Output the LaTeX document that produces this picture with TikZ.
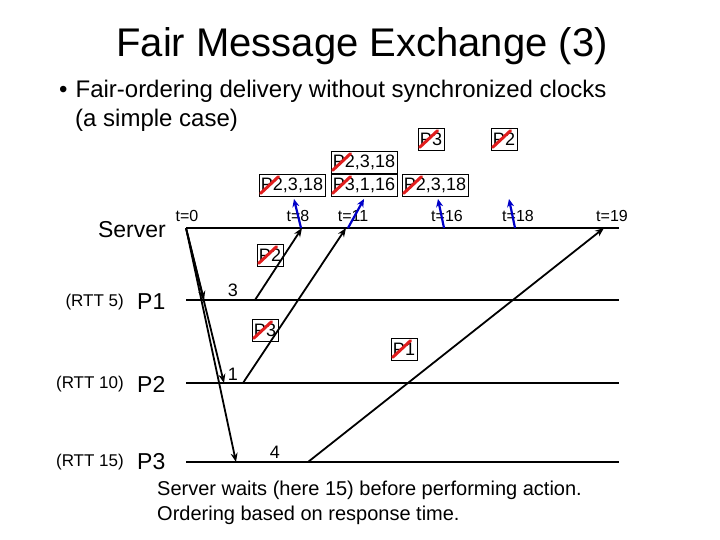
\documentclass[tikz,border=0pt]{standalone}
\usepackage{fontspec}
\setmainfont{Liberation Sans}
\usetikzlibrary{arrows.meta}
\tikzset{
  lbl/.style={inner sep=0pt},
  tlab/.style={inner sep=0pt, font=\fontsize{16}{16}\selectfont},
  msg/.style={draw, line width=0.8pt, inner xsep=2pt, inner ysep=0pt, minimum height=22pt, font=\fontsize{18}{18}\selectfont},
  tl/.style={line width=1.4pt},
  blk/.style={line width=1.8pt, -{Stealth[length=9pt,width=7pt]}},
  blu/.style={line width=2.2pt, draw={rgb,255:red,0;green,0;blue,200}, -{Stealth[length=8pt,width=7pt]}},
  slash/.style={line width=3pt, draw={rgb,255:red,225;green,30;blue,30}, line cap=round},
}
\newcommand{\xo}[1]{\draw[slash] ([shift={(2pt,3pt)}]#1.south west) -- ([shift={(20pt,-3pt)}]#1.north west);}
\begin{document}
\begin{tikzpicture}[x=1pt,y=-1pt]
\useasboundingbox (0,0) rectangle (720,540);
\node[lbl, font=\fontsize{40}{40}\selectfont] (title) at (362,46) {Fair Message Exchange (3)};
\node[lbl, anchor=west, font=\fontsize{24}{24}\selectfont] (b1) at (59,91) {\textbullet\hspace{8pt}Fair-ordering delivery without synchronized clocks};
\node[lbl, anchor=west, font=\fontsize{24}{24}\selectfont] (b2) at (75,120) {(a simple case)};

% process labels
\node[lbl, anchor=east, font=\fontsize{23}{23}\selectfont] (srv) at (166,230) {Server};
\node[lbl, anchor=west, font=\fontsize{23}{23}\selectfont] (p1) at (137,302) {P1};
\node[lbl, anchor=west, font=\fontsize{23}{23}\selectfont] (p2) at (137,384) {P2};
\node[lbl, anchor=west, font=\fontsize{23}{23}\selectfont] (p3) at (137,462) {P3};
\node[lbl, anchor=east, font=\fontsize{17}{17}\selectfont] (r1) at (124,302) {(RTT 5)};
\node[lbl, anchor=east, font=\fontsize{17}{17}\selectfont] (r2) at (124,384) {(RTT 10)};
\node[lbl, anchor=east, font=\fontsize{17}{17}\selectfont] (r3) at (124,462) {(RTT 15)};

% timelines
\coordinate (s0) at (186,228); \coordinate (s1) at (619,228);
\coordinate (a0) at (186,300); \coordinate (a1) at (619,300);
\coordinate (c0) at (186,383); \coordinate (c1) at (619,383);
\coordinate (d0) at (186,462); \coordinate (d1) at (619,462);
\draw[tl] (s0) -- (s1);
\draw[tl] (a0) -- (a1);
\draw[tl] (c0) -- (c1);
\draw[tl] (d0) -- (d1);

% time labels
\node[tlab] (t0) at (187,216) {t=0};
\node[tlab] (t8) at (298,216) {t=8};
\node[tlab] (t11) at (353,216) {t=11};
\node[tlab] (t16) at (447,216) {t=16};
\node[tlab] (t18) at (518,216) {t=18};
\node[tlab] (t19) at (612,216) {t=19};

% server to clients
\coordinate (e1) at (204,300);
\coordinate (e2) at (224,383);
\coordinate (e3) at (236,462);
\draw[blk] (s0) -- (e1);
\draw[blk] (s0) -- (e2);
\draw[blk] (s0) -- (e3);

% clients to server
\coordinate (u1) at (255,300); \coordinate (v1) at (302,228);
\coordinate (u2) at (243,383); \coordinate (v2) at (346,228);
\coordinate (u3) at (308,462); \coordinate (v3) at (604,228);
\draw[blk] (u1) -- (v1);
\draw[blk] (u2) -- (v2);
\draw[blk] (u3) -- (v3);

\node[lbl, font=\fontsize{18}{18}\selectfont] (n3) at (233,290) {3};
\node[lbl, font=\fontsize{18}{18}\selectfont] (n1) at (233,374) {1};
\node[lbl, font=\fontsize{18}{18}\selectfont] (n4) at (275,452) {4};

% message boxes on lines
\node[msg] (m1) at (270,255) {P2};
\node[msg] (m2) at (265,330) {P3};
\node[msg] (m3) at (404,349) {P1};
\xo{m1} \xo{m2} \xo{m3}

% blue arrows
\coordinate (bb1) at (301,228); \coordinate (bt1) at (294,199);
\coordinate (bb2) at (348,228); \coordinate (bt2) at (364,199);
\coordinate (bb3) at (444,228); \coordinate (bt3) at (438,199);
\coordinate (bb4) at (515,228); \coordinate (bt4) at (509,199);
\draw[blu] (bb1) -- (bt1);
\draw[blu] (bb2) -- (bt2);
\draw[blu] (bb3) -- (bt3);
\draw[blu] (bb4) -- (bt4);

% queue boxes
\node[msg] (q1) at (292,185) {P2,3,18};
\node[msg] (q2) at (364,185) {P3,1,16};
\node[msg] (q3) at (435,185) {P2,3,18};
\node[msg] (q4) at (364,162) {P2,3,18};
\node[msg] (q5) at (431,139) {P3};
\node[msg] (q6) at (504,139) {P2};
\xo{q1} \xo{q2} \xo{q3} \xo{q4} \xo{q5} \xo{q6}

\node[lbl, anchor=west, font=\fontsize{20}{20}\selectfont] (f1) at (157,490) {Server waits (here 15) before performing action.};
\node[lbl, anchor=west, font=\fontsize{20}{20}\selectfont] (f2) at (157,515) {Ordering based on response time.};
\end{tikzpicture}
\end{document}
